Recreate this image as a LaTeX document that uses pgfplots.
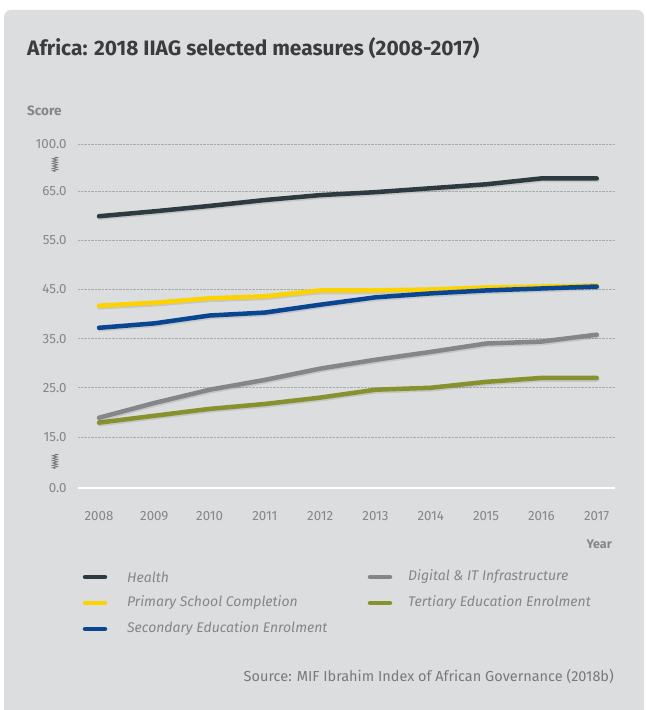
\documentclass[border=0pt]{standalone}
\usepackage{pgfplots}
\pgfplotsset{compat=1.18}
\usepackage{fontspec}
\setmainfont{Fira Sans}
\usetikzlibrary{decorations.pathmorphing}
\definecolor{panel}{HTML}{DCDDDF}
\definecolor{titlec}{HTML}{3A3D40}
\definecolor{labc}{HTML}{858688}
\definecolor{gridc}{HTML}{A9AAAC}
\definecolor{chealth}{HTML}{2D3A3F}
\definecolor{cprim}{HTML}{FCD200}
\definecolor{csec}{HTML}{0A4592}
\definecolor{cdig}{HTML}{85868A}
\definecolor{cter}{HTML}{87922F}
\begin{document}
\begin{tikzpicture}[x=1pt,y=1pt]
\path[use as bounding box] (0pt,0pt) rectangle (646pt,710pt);
\fill[panel, rounded corners=7pt] (4pt,-10pt) rectangle (644pt,700pt);
\node[anchor=base west, inner sep=0, font=\fontsize{20.9}{23}\selectfont\bfseries, text=titlec] at (27pt,654pt) {Africa: 2018 IIAG selected measures (2008-2017)};
\node[anchor=west, inner sep=0, font=\fontsize{13.5}{15}\selectfont\bfseries, text=labc] at (27pt,599pt) {Score};
\node[anchor=east, inner sep=0, font=\fontsize{12.5}{14}\selectfont\bfseries, text=labc] at (612pt,166pt) {Year};
\begin{axis}[
  at={(78pt,222pt)}, anchor=south west, scale only axis,
  width=537pt, height=344pt,
  xmin=2007.62, xmax=2017.33, ymin=4.6, ymax=74.6,
  axis line style={draw=none}, major tick style={draw=none},
  ymajorgrids, grid style={gridc, densely dotted, line width=0.7pt},
  xtick={2008,2009,...,2017},
  ytick={4.6,15,25,35,45,55,65,74.6},
  yticklabels={0.0,15.0,25.0,35.0,45.0,55.0,65.0,100.0},
  /pgf/number format/assume math mode=true,
  /pgf/number format/1000 sep={},
  tick label style={font=\fontsize{13.3}{15}\selectfont, text=labc},
  xticklabel style={yshift=-20pt},
  yticklabel style={xshift=-8pt},
  clip=false,
  every axis plot/.append style={line width=4.5pt, line cap=round, line join=round,
    preaction={draw=black, draw opacity=0.10, transform canvas={yshift=-1.6pt, xshift=0.6pt}}},
]
\draw[white, line width=2pt] (axis cs:2007.62,4.6) -- (axis cs:2017.33,4.6);
\addplot[cter] coordinates {(2008,17.9)(2009,19.3)(2010,20.7)(2011,21.7)(2012,23.0)(2013,24.6)(2014,25.0)(2015,26.2)(2016,27.0)(2017,27.0)};
\addplot[cdig] coordinates {(2008,18.9)(2009,21.9)(2010,24.6)(2011,26.6)(2012,28.9)(2013,30.7)(2014,32.3)(2015,34.0)(2016,34.4)(2017,35.8)};
\addplot[cprim] coordinates {(2008,41.7)(2009,42.3)(2010,43.2)(2011,43.6)(2012,44.8)(2013,44.8)(2014,45.0)(2015,45.4)(2016,45.6)(2017,45.8)};
\addplot[csec] coordinates {(2008,37.2)(2009,38.1)(2010,39.7)(2011,40.3)(2012,41.9)(2013,43.4)(2014,44.2)(2015,44.8)(2016,45.2)(2017,45.6)};
\addplot[chealth] coordinates {(2008,59.9)(2009,60.9)(2010,62.0)(2011,63.2)(2012,64.2)(2013,64.8)(2014,65.6)(2015,66.4)(2016,67.6)(2017,67.6)};
\end{axis}
\draw[labc!85!black, line width=0.7pt, decorate, decoration={zigzag, amplitude=2.6pt, segment length=2.4pt}] (55pt,553pt) -- (55pt,538pt);
\draw[labc!85!black, line width=0.7pt, decorate, decoration={zigzag, amplitude=2.6pt, segment length=2.4pt}] (55pt,256pt) -- (55pt,241pt);
% legend
\begin{scope}[line width=4.5pt, line cap=round]
\draw[chealth] (85pt,133pt) -- (105pt,133pt);
\draw[cprim] (85pt,107pt) -- (105pt,107pt);
\draw[csec] (85pt,81pt) -- (105pt,81pt);
\draw[cdig] (370pt,133pt) -- (390pt,133pt);
\draw[cter] (370pt,107pt) -- (390pt,107pt);
\end{scope}
\begin{scope}[every node/.style={anchor=west, inner sep=0, font=\fontsize{14}{16}\selectfont\itshape, text=labc}]
\node at (127pt,133pt) {Health};
\node at (127pt,107pt) {Primary School Completion};
\node at (127pt,81pt) {Secondary Education Enrolment};
\node at (408pt,133pt) {Digital \& IT Infrastructure};
\node at (408pt,107pt) {Tertiary Education Enrolment};
\end{scope}
\node[anchor=east, inner sep=0, font=\fontsize{14.5}{16}\selectfont, text=labc!90!black] at (614pt,34pt) {Source: MIF Ibrahim Index of African Governance (2018b)};
\end{tikzpicture}
\end{document}
